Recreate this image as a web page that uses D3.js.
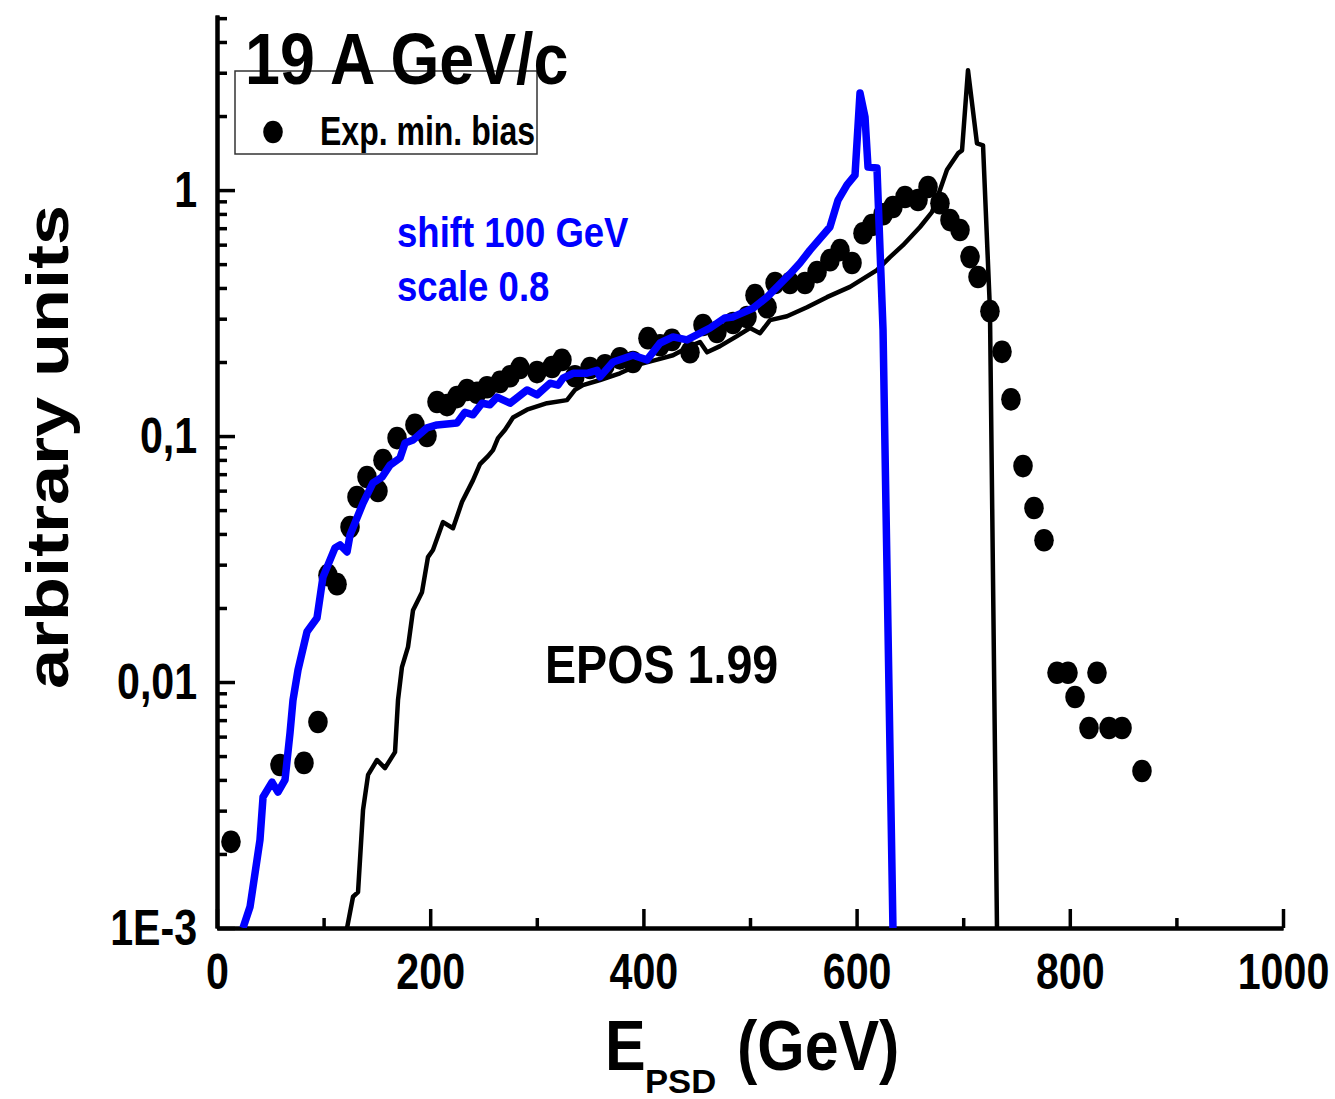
<!DOCTYPE html>
<html>
<head>
<meta charset="utf-8">
<script src="https://cdn.jsdelivr.net/npm/d3@7"></script>
<style>
  html, body { margin: 0; padding: 0; background: #fff; }
  svg { display: block; }
  text { font-family: "Liberation Sans", Arial, sans-serif; font-weight: bold; }
</style>
</head>
<body>
<svg id="chart" width="1335" height="1099"></svg>
<script>
// experimental min. bias points [E_PSD (GeV), value]
const expData = [
  [13.1, 0.00224], [59.1, 0.0046], [81.6, 0.00469], [94.7, 0.00688],
  [104.1, 0.0272], [112.6, 0.025], [124.8, 0.0427], [131.3, 0.0565],
  [140.7, 0.0681], [151.0, 0.0598], [155.7, 0.0798], [168.9, 0.0981],
  [185.7, 0.111], [197.0, 0.1], [206.4, 0.1375], [215.8, 0.1336],
  [225.1, 0.144], [234.5, 0.154], [243.9, 0.15], [253.3, 0.158],
  [265.5, 0.166], [274.9, 0.175], [284.2, 0.189], [300.2, 0.182],
  [314.3, 0.191], [323.6, 0.204], [335.8, 0.175], [349.9, 0.189],
  [364.0, 0.194], [378.0, 0.207], [390.2, 0.2], [404.3, 0.25],
  [415.6, 0.234], [426.8, 0.246], [443.7, 0.219], [455.9, 0.283],
  [469.0, 0.265], [484.1, 0.288], [497.2, 0.305], [504.7, 0.374],
  [516.0, 0.334], [523.5, 0.419], [537.5, 0.419], [551.6, 0.419],
  [562.9, 0.464], [575.0, 0.519], [584.4, 0.57], [595.7, 0.505],
  [606.0, 0.668], [614.4, 0.721], [624.8, 0.798], [634.1, 0.853],
  [645.4, 0.937], [657.6, 0.911], [667.0, 1.03], [678.2, 0.885],
  [687.6, 0.755], [697.0, 0.688], [706.4, 0.534], [713.9, 0.443],
  [725.1, 0.322], [736.4, 0.22], [744.8, 0.141], [756.1, 0.0755],
  [766.4, 0.051], [775.8, 0.0377], [788.0, 0.0109], [798.3, 0.0109],
  [804.9, 0.00869], [818.0, 0.0065], [825.5, 0.0109], [836.8, 0.0065],
  [849.0, 0.0065], [867.7, 0.00435]
];

// EPOS 1.99 shifted by 100 GeV, scaled 0.8 (blue)
const shiftedData = [
  [24.4, 0.001], [31.0, 0.00122], [40.3, 0.00228], [43.2, 0.00341],
  [51.6, 0.00392], [57.2, 0.00357], [63.8, 0.004], [68.5, 0.00621],
  [71.3, 0.00845], [76.0, 0.0112], [84.4, 0.016], [93.8, 0.0182],
  [99.4, 0.0267], [110.7, 0.0351], [115.4, 0.0361], [122.0, 0.0338],
  [124.8, 0.0396], [137.0, 0.0534], [146.3, 0.0645], [154.8, 0.0681],
  [162.3, 0.0762], [171.7, 0.0814], [176.4, 0.0937], [183.9, 0.0964],
  [197.0, 0.108], [206.4, 0.111], [225.1, 0.113], [232.6, 0.125],
  [240.2, 0.122], [248.6, 0.136], [256.1, 0.134], [262.7, 0.144],
  [274.9, 0.136], [290.8, 0.154], [300.2, 0.147], [312.4, 0.164],
  [319.9, 0.161], [324.6, 0.172], [334.0, 0.18], [347.1, 0.18],
  [356.5, 0.185], [359.3, 0.174], [371.5, 0.2], [390.2, 0.213],
  [403.4, 0.204], [415.6, 0.239], [427.8, 0.253], [440.9, 0.246],
  [462.5, 0.275], [476.5, 0.302], [484.1, 0.305], [502.8, 0.331],
  [516.0, 0.367], [537.5, 0.456], [546.9, 0.505], [556.3, 0.57],
  [575.0, 0.708], [582.6, 0.911], [591.0, 1.05], [598.5, 1.15],
  [603.2, 2.48], [607.9, 1.98], [610.7, 1.24], [619.1, 1.23],
  [624.8, 0.27], [634.1, 0.001]
];

// EPOS 1.99 original (thin black)
const eposData = [
  [122.0, 0.001], [127.6, 0.00134], [132.3, 0.0014], [137.0, 0.00302],
  [141.7, 0.00419], [150.1, 0.00482], [157.6, 0.00447], [167.0, 0.00519],
  [169.8, 0.00845], [173.5, 0.0115], [179.2, 0.0139], [183.9, 0.0196],
  [192.3, 0.0232], [197.9, 0.0322], [202.6, 0.0344], [212.0, 0.0447],
  [221.4, 0.0422], [229.8, 0.0539], [240.2, 0.0662], [246.7, 0.0769],
  [254.2, 0.0829], [258.9, 0.0877], [263.6, 0.0981], [270.2, 0.106],
  [277.7, 0.119], [290.8, 0.128], [309.6, 0.136], [328.3, 0.14],
  [335.8, 0.154], [343.3, 0.161], [359.3, 0.169], [378.0, 0.18],
  [396.8, 0.196], [415.6, 0.206], [427.8, 0.213], [443.7, 0.232],
  [453.1, 0.241], [459.7, 0.219], [471.9, 0.232], [487.8, 0.255],
  [500.0, 0.275], [509.4, 0.262], [518.8, 0.296], [534.7, 0.307],
  [553.5, 0.334], [572.2, 0.367], [593.8, 0.404], [619.1, 0.473],
  [631.3, 0.534], [643.5, 0.597], [659.5, 0.708], [670.7, 0.814],
  [678.2, 1.0], [684.8, 1.21], [695.1, 1.41], [698.9, 1.45],
  [704.5, 3.07], [712.9, 1.55], [718.6, 1.52], [725.1, 0.325],
  [731.7, 0.001]
];

const xMajorTicks = [0, 200, 400, 600, 800, 1000];
const xMinorTicks = [100, 300, 500, 700, 900];
const yMajorTicks = [0.001, 0.01, 0.1, 1];
const yTickLabels = ["1E-3", "0,01", "0,1", "1"];
const yMinorTicks = [];
[0.001, 0.01, 0.1, 1].forEach(d => {
  for (let k = 2; k <= 9; k++) if (d * k <= 5.15) yMinorTicks.push(d * k);
});

const svg = d3.select("#chart");
const SX = 0.85; // the figure is squeezed horizontally

const x = d3.scaleLinear().domain([0, 1000]).range([217, 1283]);
const y = d3.scaleLog().domain([0.001, 5.15]).range([928, 15]);

svg.append("defs").append("clipPath").attr("id", "plot")
  .append("rect")
  .attr("x", x(0)).attr("y", y(5.15))
  .attr("width", x(1000) - x(0)).attr("height", y(0.001) - y(5.15));

// axes
const gx = svg.append("g").attr("transform", `translate(0,${y(0.001)})`);
gx.call(d3.axisBottom(x).tickValues(xMajorTicks).tickSizeInner(-19).tickSizeOuter(0).tickPadding(26)
  .tickFormat(d3.format("d")));
const gxMinor = svg.append("g").attr("transform", `translate(0,${y(0.001)})`);
gxMinor.call(d3.axisBottom(x).tickValues(xMinorTicks).tickSizeInner(-10).tickSizeOuter(0).tickFormat(""));

const gy = svg.append("g").attr("transform", `translate(${x(0)},0)`);
gy.call(d3.axisLeft(y).tickValues(yMajorTicks).tickSizeInner(-18).tickSizeOuter(0).tickPadding(24)
  .tickFormat((d, i) => yTickLabels[i]));
const gyMinor = svg.append("g").attr("transform", `translate(${x(0)},0)`);
gyMinor.call(d3.axisLeft(y).tickValues(yMinorTicks).tickSizeInner(-10).tickSizeOuter(0).tickFormat(""));

[gx, gxMinor, gy, gyMinor].forEach(g => {
  g.select(".domain").attr("stroke", "#000").attr("stroke-width", 4);
  g.selectAll(".tick line").attr("stroke", "#000").attr("stroke-width", 3.5);
  g.selectAll(".tick text")
    .attr("fill", "#000")
    .attr("font-size", 50)
    .attr("font-family", "Liberation Sans, Arial, sans-serif")
    .attr("font-weight", "bold")
    .attr("transform", `scale(${SX * 0.97},1)`);
});

// curves
const line = d3.line().x(d => x(d[0])).y(d => y(d[1]));
const plot = svg.append("g").attr("clip-path", "url(#plot)");

plot.append("path")
  .datum(eposData)
  .attr("d", line)
  .attr("fill", "none")
  .attr("stroke", "#000")
  .attr("stroke-width", 4.5)
  .attr("stroke-linejoin", "round");

plot.append("g")
  .selectAll("ellipse")
  .data(expData)
  .join("ellipse")
  .attr("cx", d => x(d[0]))
  .attr("cy", d => y(d[1]))
  .attr("rx", 9.8)
  .attr("ry", 11.3)
  .attr("fill", "#000");

plot.append("path")
  .datum(shiftedData)
  .attr("d", line)
  .attr("fill", "none")
  .attr("stroke", "#0000ff")
  .attr("stroke-width", 7.5)
  .attr("stroke-linejoin", "round");

// texts
function label(tx, ty, str, size, sx, color) {
  return svg.append("text")
    .attr("transform", `translate(${tx},${ty}) scale(${sx},1)`)
    .attr("font-size", size)
    .attr("fill", color || "#000")
    .text(str);
}

// legend box
svg.append("rect")
  .attr("x", 235).attr("y", 71)
  .attr("width", 302).attr("height", 83)
  .attr("fill", "none")
  .attr("stroke", "#333")
  .attr("stroke-width", 1.5);
svg.append("ellipse")
  .attr("cx", 273).attr("cy", 132)
  .attr("rx", 9.8).attr("ry", 11.3)
  .attr("fill", "#000");
label(320, 145, "Exp. min. bias", 40, 0.8);

label(245, 84, "19 A GeV/c", 73, 0.86);
label(397, 247, "shift 100 GeV", 42, 0.87, "#0000ff");
label(397, 301, "scale 0.8", 42, 0.87, "#0000ff");
label(545, 683, "EPOS 1.99", 53, 0.88);

// axis titles
label(605, 1070, "E", 70, 0.87);
label(645, 1093, "PSD", 33, 1.05);
label(737, 1070, "(GeV)", 70, 0.87);

svg.append("text")
  .attr("transform", `translate(68,447) scale(0.82,1) rotate(-90)`)
  .attr("text-anchor", "middle")
  .attr("font-size", 72)
  .attr("fill", "#000")
  .text("arbitrary units");
</script>
</body>
</html>
